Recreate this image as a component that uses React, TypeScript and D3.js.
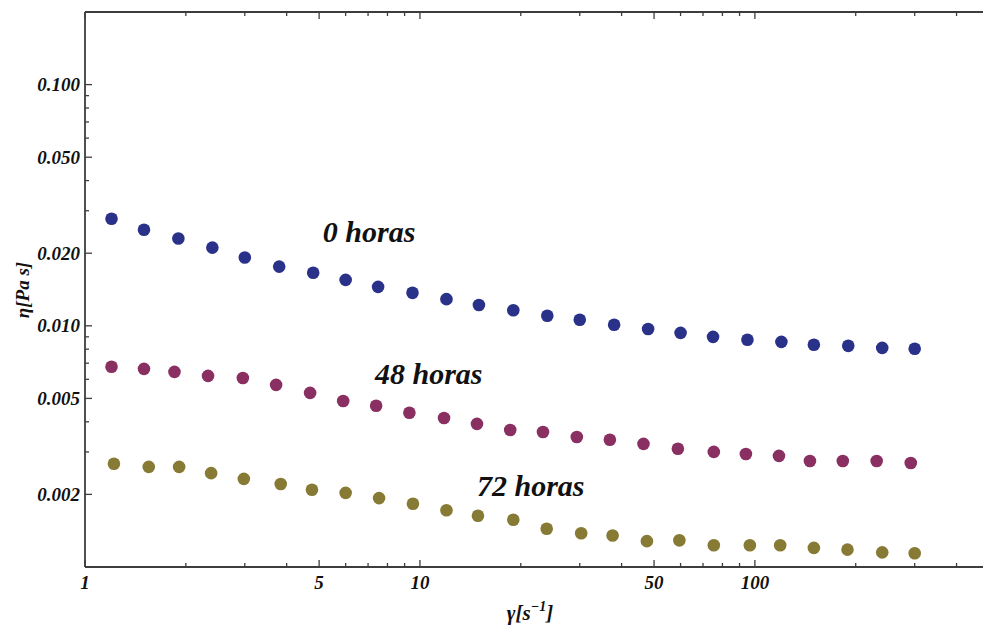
import React from "react";
import * as d3 from "d3";

// Shear rate (1/s) for each measurement series
const shearRate0h = [1.2, 1.5, 1.9, 2.4, 3.0, 3.8, 4.8, 6.0, 7.5, 9.5, 12, 15, 19, 24, 30, 38, 48, 60, 75, 95, 120, 150, 190, 240, 300];
const shearRate48h = [1.2, 1.5, 1.85, 2.33, 2.96, 3.72, 4.7, 5.9, 7.4, 9.3, 11.8, 14.8, 18.6, 23.3, 29.4, 36.9, 46.5, 58.9, 75.4, 94, 118, 146, 183, 231, 292];
const shearRate72h = [1.22, 1.55, 1.91, 2.38, 2.98, 3.84, 4.76, 6.0, 7.55, 9.53, 12.0, 14.9, 19.0, 23.9, 30.3, 37.6, 47.6, 59.5, 75.4, 96.6, 119, 150, 189, 240, 300];

// Viscosity (Pa s)
const viscosity0h = [0.0278, 0.025, 0.023, 0.0211, 0.0192, 0.0176, 0.0166, 0.0155, 0.0145, 0.0137, 0.0129, 0.0122, 0.0116, 0.011, 0.0106, 0.0101, 0.0097, 0.00935, 0.009, 0.00875, 0.00858, 0.00834, 0.00826, 0.0081, 0.00803];
const viscosity48h = [0.00676, 0.00663, 0.00644, 0.0062, 0.00608, 0.00569, 0.00527, 0.00488, 0.00466, 0.00436, 0.00415, 0.00392, 0.0037, 0.00363, 0.00346, 0.00337, 0.00324, 0.00309, 0.003, 0.00294, 0.00289, 0.00275, 0.00275, 0.00275, 0.0027];
const viscosity72h = [0.00268, 0.0026, 0.0026, 0.00245, 0.00232, 0.00221, 0.00209, 0.00203, 0.00193, 0.00183, 0.00172, 0.00163, 0.00157, 0.00144, 0.00138, 0.00135, 0.00128, 0.00129, 0.00123, 0.00123, 0.00123, 0.0012, 0.00118, 0.00115, 0.00114];

const seriesNames = ["0 horas", "48 horas", "72 horas"];
const seriesColors = ["#2a3189", "#8a2f62", "#877a35"];

const xMajorTicks = [1, 5, 10, 50, 100, 500];
const xTickLabels = ["1", "5", "10", "50", "100"];
const yMajorTicks = [0.002, 0.005, 0.01, 0.02, 0.05, 0.1];
const yTickLabels = ["0.002", "0.005", "0.010", "0.020", "0.050", "0.100"];

const W = 983;
const H = 629;
const left = 85;
const top = 12;
const bottom = 567;
const right = 989;

const FONT = "Liberation Serif";
const AXIS = "#3d3d3d";

export default function App() {
  const x = d3.scaleLog().domain([1, 500]).range([left, right]);
  const y = d3.scaleLog().domain([0.001, 0.2]).range([bottom, top]);

  const xMinor = x.ticks(30).filter((t) => !xMajorTicks.some((m) => Math.abs(m - t) < 1e-9));
  const yMinor = y.ticks(30).filter((t) => !yMajorTicks.some((m) => Math.abs(m - t) < 1e-12));

  const series = [
    { name: seriesNames[0], xs: shearRate0h, ys: viscosity0h, color: seriesColors[0] },
    { name: seriesNames[1], xs: shearRate48h, ys: viscosity48h, color: seriesColors[1] },
    { name: seriesNames[2], xs: shearRate72h, ys: viscosity72h, color: seriesColors[2] },
  ];

  // annotation anchors in data space (left edge, baseline)
  const labelPos = [
    { gx: 5.13, eta: 0.0223 },
    { gx: 7.34, eta: 0.00574 },
    { gx: 14.8, eta: 0.00197 },
  ];

  const major = 7;
  const minor = 4;

  return (
    <svg width={W} height={H} style={{ position: "fixed", left: 0, top: 0, background: "#fff" }}>
      <rect x={0} y={0} width={W} height={H} fill="#fff" />

      {/* frame */}
      <g stroke={AXIS} strokeWidth={1.8} fill="none">
        <line x1={left} y1={top} x2={right} y2={top} />
        <line x1={left} y1={bottom} x2={right} y2={bottom} />
        <line x1={left} y1={top} x2={left} y2={bottom} />
      </g>

      {/* ticks pointing inward */}
      <g stroke={AXIS} strokeWidth={1.3}>
        {xMajorTicks.map((t) => (
          <g key={"xM" + t}>
            <line x1={x(t)} x2={x(t)} y1={bottom} y2={bottom - major} />
            <line x1={x(t)} x2={x(t)} y1={top} y2={top + major} />
          </g>
        ))}
        {xMinor.map((t) => (
          <g key={"xm" + t}>
            <line x1={x(t)} x2={x(t)} y1={bottom} y2={bottom - minor} />
            <line x1={x(t)} x2={x(t)} y1={top} y2={top + minor} />
          </g>
        ))}
        {yMajorTicks.map((t) => (
          <line key={"yM" + t} x1={left} x2={left + major} y1={y(t)} y2={y(t)} />
        ))}
        {yMinor.map((t) => (
          <line key={"ym" + t} x1={left} x2={left + minor} y1={y(t)} y2={y(t)} />
        ))}
      </g>

      {/* tick labels */}
      <g fontFamily={FONT} fontWeight="bold" fontStyle="italic" fontSize={19} fill="#111">
        {xTickLabels.map((lab, i) => (
          <text key={"xl" + lab} x={x(xMajorTicks[i])} y={589} textAnchor="middle">
            {lab}
          </text>
        ))}
        {yTickLabels.map((lab, i) => (
          <text key={"yl" + lab} x={80} y={y(yMajorTicks[i]) + 6.5} textAnchor="end">
            {lab}
          </text>
        ))}
      </g>

      {/* axis titles */}
      <text
        transform={`translate(29, 290) rotate(-90)`}
        textAnchor="middle"
        fontFamily={FONT}
        fontWeight="bold"
        fontStyle="italic"
        fontSize={19}
        fill="#111"
      >
        η[Pa s]
      </text>
      <text
        x={530}
        y={620}
        textAnchor="middle"
        fontFamily={FONT}
        fontWeight="bold"
        fontStyle="italic"
        fontSize={21}
        fill="#111"
      >
        γ[s
        <tspan dy={-9} fontSize={14}>−1</tspan>
        <tspan dy={9}>]</tspan>
      </text>

      {/* data points */}
      {series.map((s) => (
        <g key={s.name} fill={s.color}>
          {s.xs.map((g, i) => (
            <circle key={i} cx={x(g)} cy={y(s.ys[i])} r={6.3} />
          ))}
        </g>
      ))}

      {/* series annotations */}
      <g fontFamily={FONT} fontWeight="bold" fontStyle="italic" fontSize={30} fill="#111">
        {series.map((s, i) => (
          <text key={"lab" + s.name} x={x(labelPos[i].gx)} y={y(labelPos[i].eta)}>
            {s.name}
          </text>
        ))}
      </g>
    </svg>
  );
}
